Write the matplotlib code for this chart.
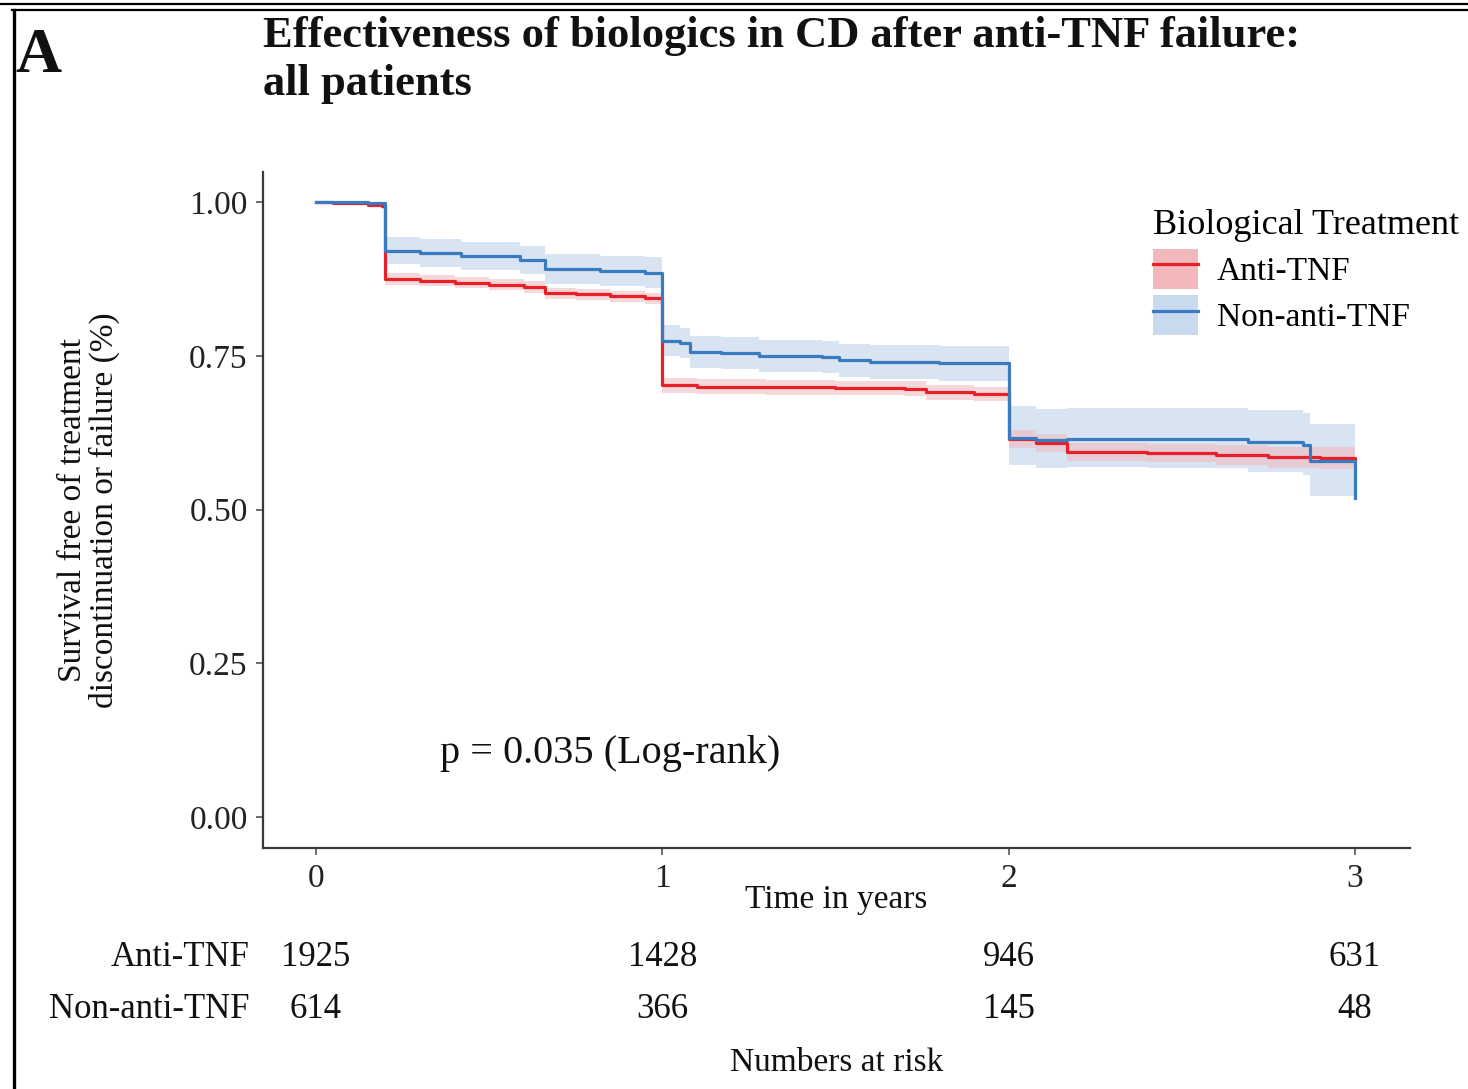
import matplotlib
matplotlib.use("Agg")
import matplotlib.pyplot as plt
from matplotlib.patches import Patch
from matplotlib.lines import Line2D

plt.rcParams['font.family'] = ['Liberation Serif', 'DejaVu Serif']

# Kaplan-Meier estimates (time in years) with 95% confidence limits
anti_t = [0.00, 0.05, 0.10, 0.15, 0.19, 0.20, 0.30, 0.40, 0.50, 0.60, 0.66, 0.75, 0.85, 0.95,
          1.00, 1.10, 1.30, 1.50, 1.70, 1.76, 1.90, 2.00, 2.08, 2.17, 2.40, 2.60, 2.75, 2.90, 3.00]
anti_s = [1.000, 0.999, 0.998, 0.996, 0.993, 0.875, 0.872, 0.869, 0.866, 0.862, 0.852, 0.850, 0.847, 0.844,
          0.702, 0.700, 0.699, 0.698, 0.697, 0.691, 0.688, 0.615, 0.608, 0.594, 0.592, 0.589, 0.585, 0.584, 0.583]
anti_lo = [1.000, 0.997, 0.996, 0.993, 0.989, 0.866, 0.863, 0.860, 0.857, 0.853, 0.843, 0.841, 0.838, 0.835,
           0.690, 0.688, 0.687, 0.686, 0.685, 0.679, 0.676, 0.600, 0.593, 0.579, 0.577, 0.573, 0.568, 0.566, 0.563]
anti_hi = [1.000, 1.000, 1.000, 0.999, 0.997, 0.884, 0.881, 0.878, 0.875, 0.871, 0.861, 0.859, 0.856, 0.853,
           0.714, 0.712, 0.711, 0.710, 0.709, 0.703, 0.700, 0.630, 0.623, 0.609, 0.607, 0.605, 0.602, 0.602, 0.603]

non_t = [0.00, 0.10, 0.15, 0.19, 0.20, 0.30, 0.42, 0.59, 0.66, 0.82, 0.95,
         1.00, 1.05, 1.08, 1.17, 1.28, 1.46, 1.51, 1.60, 1.80,
         2.00, 2.08, 2.17, 2.40, 2.69, 2.85, 2.87, 3.00]
non_s = [1.000, 1.000, 0.999, 0.998, 0.921, 0.917, 0.912, 0.906, 0.891, 0.888, 0.885,
         0.775, 0.771, 0.757, 0.754, 0.750, 0.748, 0.743, 0.740, 0.738,
         0.617, 0.613, 0.615, 0.615, 0.610, 0.605, 0.579, 0.519]
non_lo = [1.000, 0.998, 0.996, 0.994, 0.899, 0.894, 0.889, 0.883, 0.867, 0.864, 0.860,
          0.750, 0.746, 0.731, 0.728, 0.724, 0.722, 0.716, 0.713, 0.710,
          0.572, 0.568, 0.569, 0.568, 0.562, 0.556, 0.522, 0.500]
non_hi = [1.000, 1.000, 1.000, 1.000, 0.943, 0.940, 0.935, 0.929, 0.915, 0.912, 0.910,
          0.800, 0.796, 0.783, 0.780, 0.776, 0.774, 0.770, 0.767, 0.766,
          0.668, 0.664, 0.666, 0.666, 0.662, 0.658, 0.640, 0.640]

groups = ["Anti-TNF", "Non-anti-TNF"]
risk_times = [0, 1, 2, 3]
risk_anti = [1925, 1428, 946, 631]
risk_non = [614, 366, 145, 48]
y_ticks = [0.00, 0.25, 0.50, 0.75, 1.00]

red = "#E8202A"
blue = "#3A7BBF"
red_fill = "#F2B8BC"
blue_fill = "#C9D9EE"

W, H = 1468, 1089
fig = plt.figure(figsize=(W / 100, H / 100), dpi=100)
ax = fig.add_axes([263 / W, 1 - 848 / H, (1410 - 263) / W, (848 - 172) / H])

ax.fill_between(non_t, non_lo, non_hi, step="post", color=blue_fill, alpha=0.7, lw=0)
ax.fill_between(anti_t, anti_lo, anti_hi, step="post", color=red_fill, alpha=0.55, lw=0)
ax.step(anti_t, anti_s, where="post", color=red, lw=2.3)
ax.step(non_t, non_s, where="post", color=blue, lw=2.3)

ax.set_xlim(-0.153, 3.159)
ax.set_ylim(-0.05, 1.049)
ax.set_xticks(risk_times)
ax.set_xticklabels([str(t) for t in risk_times])
ax.set_yticks(y_ticks)
ax.set_yticklabels([f"{v:.2f}" for v in y_ticks])
for s in ["top", "right"]:
    ax.spines[s].set_visible(False)
for s in ["left", "bottom"]:
    ax.spines[s].set_color("#3a3a3a")
    ax.spines[s].set_linewidth(1.6)
ax.tick_params(axis="both", colors="#555555", length=5, width=1.2, labelsize=24,
               labelcolor="#222222", pad=6)

fig.text(0.5 * (263 + 1410) / W, 1 - 900 / H, "Time in years", fontsize=24,
         ha="center", va="center", color="#111111")
fig.text(89 / W, 1 - 510 / H, "Survival free of treatment\ndiscontinuation or failure (%)",
         fontsize=24, rotation=90, ha="center", va="center", multialignment="center",
         linespacing=1.02, color="#111111")

ax.text(0.358, 0.103, "p = 0.035 (Log-rank)", fontsize=29, color="#111111",
        va="center", ha="left")

# legend keys: ribbon square with the line across
handles = [
    (Patch(facecolor=red_fill, edgecolor="none"), Line2D([], [], color=red, lw=2.3)),
    (Patch(facecolor=blue_fill, edgecolor="none"), Line2D([], [], color=blue, lw=2.3)),
]
fig.legend(handles, groups, loc="upper left", bbox_to_anchor=(1140 / W, 1 - 196 / H),
           frameon=False, title="Biological Treatment", alignment="left",
           fontsize=24, title_fontsize=26, handlelength=1.35, handleheight=1.45,
           handletextpad=0.55, labelspacing=0.2, borderaxespad=0)

# titles
fig.text(263 / W, 1 - 16 / H, "Effectiveness of biologics in CD after anti-TNF failure:\nall patients",
         fontsize=32, fontweight="bold", ha="left", va="top", linespacing=1.25, color="#111111")
fig.text(15 / W, 1 - 72 / H, "A", fontsize=46, fontweight="bold", ha="left", va="baseline",
         color="#111111")

# numbers at risk table
xt = ax.get_xaxis_transform()
for row_y, label, vals in [(958, groups[0], risk_anti), (1010, groups[1], risk_non)]:
    fig.text(250 / W, 1 - row_y / H, label, fontsize=25, ha="right", va="center", color="#111111")
    for t, v in zip(risk_times, vals):
        ax.text(t, -(row_y - 848) / (848 - 172), str(v), transform=xt, fontsize=25,
                ha="center", va="center", color="#111111")
fig.text(0.5 * (263 + 1410) / W, 1 - 1063 / H, "Numbers at risk", fontsize=24,
         ha="center", va="center", color="#111111")

# panel frame
fig.add_artist(Line2D([0, 1], [1 - 4 / H, 1 - 4 / H], transform=fig.transFigure, color="black", lw=1.6))
fig.add_artist(Line2D([12 / W, 1], [1 - 10 / H, 1 - 10 / H], transform=fig.transFigure, color="black", lw=1.6))
fig.add_artist(Line2D([13.5 / W, 13.5 / W], [0, 1 - 10 / H], transform=fig.transFigure, color="black", lw=2.4))

fig.savefig("out.png", dpi=100, facecolor="white")
